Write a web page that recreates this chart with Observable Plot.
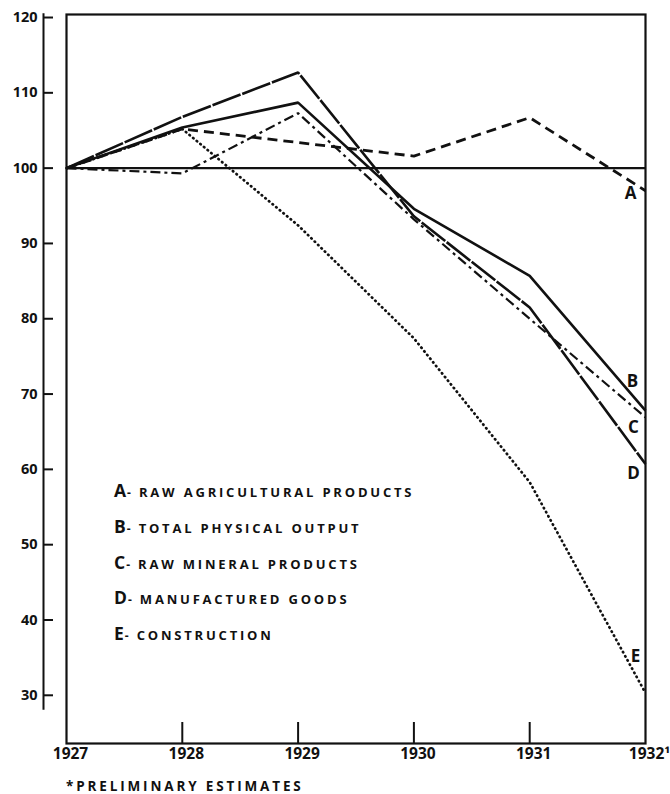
<!DOCTYPE html>
<html>
<head>
<meta charset="utf-8">
<script src="https://cdn.jsdelivr.net/npm/d3@7"></script>
<script src="https://cdn.jsdelivr.net/npm/@observablehq/plot@0.6"></script>
<style>
  html, body { margin: 0; padding: 0; background: #fff; }
  #wrap { position: relative; width: 670px; height: 794px; font-family: "Open Sans", sans-serif; font-weight: 700; color: #111; }
  #chart { position: absolute; left: 0; top: 0; }
  .leg { position: absolute; left: 114px; display: flex; align-items: baseline; white-space: nowrap; }
  .leg .k { font-size: 17.5px; letter-spacing: 0; }
  .leg .d { font-size: 12px; margin: 0 8px 0 1px; }
  .leg .t { font-size: 13px; letter-spacing: 2.8px; }
  #foot { position: absolute; left: 66px; top: 780px; font-size: 13.5px; letter-spacing: 2.85px; line-height: 1; }
</style>
</head>
<body>
<div id="wrap"><div id="chart"></div></div>
<script>
// ---- data ----
const years = [1927, 1928, 1929, 1930, 1931, 1932];
const agricultural = [100, 105.2, 103.4, 101.6, 106.7, 97.0];   // A
const totalOutput  = [100, 105.4, 108.7, 94.6, 85.7, 67.8];     // B
const mineral      = [100, 99.3, 107.3, 93.2, 80.0, 66.9];      // C
const manufactured = [100, 106.8, 112.7, 93.6, 81.5, 60.7];     // D
const construction = [100, 105.2, 92.4, 77.4, 58.3, 30.3];      // E
const seriesKeys = ["A", "B", "C", "D", "E"];
const seriesNames = ["RAW AGRICULTURAL PRODUCTS", "TOTAL PHYSICAL OUTPUT", "RAW MINERAL PRODUCTS", "MANUFACTURED GOODS", "CONSTRUCTION"];
const yTicks = [30, 40, 50, 60, 70, 80, 90, 100, 110, 120];
const xTickLabels = ["1927", "1928", "1929", "1930", "1931", "1932\u00b9"];
const baseValue = 100;
const footnote = "*PRELIMINARY ESTIMATES";

// ---- build table ----
const seriesValues = [agricultural, totalOutput, mineral, manufactured, construction];
const rows = seriesKeys.flatMap((k, i) => years.map((yr, j) => ({key: k, year: yr, value: seriesValues[i][j]})));
const lastRows = seriesKeys.map(k => rows.filter(r => r.key === k).at(-1));

// ---- styles ----
const styles = {
  A: {dash: "10,6", width: 2.8, cap: "butt", ldx: -15, ldy: 3},
  B: {dash: null, width: 2.6, cap: "butt", ldx: -13, ldy: -29},
  C: {dash: "10,4,3,4", width: 2.2, cap: "butt", ldx: -12, ldy: 10},
  D: {dash: "30,1.8", width: 2.6, cap: "butt", ldx: -12, ldy: 9},
  E: {dash: "0.5,4.2", width: 2.7, cap: "round", ldx: -10, ldy: -36}
};

const lineMarks = seriesKeys.map(k => Plot.line(rows.filter(r => r.key === k), {
  x: "year", y: "value", stroke: "#111", strokeWidth: styles[k].width,
  strokeDasharray: styles[k].dash, strokeLinecap: styles[k].cap, strokeLinejoin: "miter"
}));
const labelMarks = seriesKeys.map((k, i) => Plot.text([lastRows[i]], {
  x: "year", y: "value", text: "key", dx: styles[k].ldx, dy: styles[k].ldy,
  fontSize: 17, fontWeight: 700, fill: "#111"
}));

const chart = Plot.plot({
  width: 670,
  height: 770,
  marginLeft: 66,
  marginRight: 25,
  marginTop: 14,
  marginBottom: 27,
  style: {fontFamily: "Open Sans, sans-serif", fontWeight: 700, color: "#111", background: "#fff"},
  x: {domain: [years[0], years.at(-1)]},
  y: {domain: [23.6, 120.4]},
  marks: [
    Plot.ruleY([baseValue], {stroke: "#111", strokeWidth: 2.2}),
    ...lineMarks,
    ...labelMarks,
    Plot.frame({stroke: "#111", strokeWidth: 2.2}),
    Plot.ruleX([years[0]], {y1: d3.max(yTicks) + 0.5, y2: d3.min(yTicks) - 2, dx: -23, stroke: "#111", strokeWidth: 2}),
    Plot.axisY({ticks: yTicks, tickSize: 10, dx: -13, tickPadding: 6, fontSize: 14.5, fontWeight: 700, strokeWidth: 2, label: null}),
    Plot.axisX(years.slice(1, -1), {tickSize: -21, tickFormat: () => "", strokeWidth: 2, label: null}),
    Plot.axisX(years, {tickSize: 0, tickPadding: 4, dx: 4, tickFormat: (d) => xTickLabels[years.indexOf(d)], fontSize: 15.5, fontWeight: 700, label: null})
  ]
});
document.getElementById("chart").appendChild(chart);

// ---- legend (inside frame) ----
const wrap = document.getElementById("wrap");
seriesKeys.forEach((k, i) => {
  const div = document.createElement("div");
  div.className = "leg";
  div.style.top = (478 + i * 35.8) + "px";
  div.innerHTML = `<span class="k">${k}</span><span class="d">-</span><span class="t">${seriesNames[i]}</span>`;
  wrap.appendChild(div);
});
const foot = document.createElement("div");
foot.id = "foot";
foot.textContent = footnote;
wrap.appendChild(foot);
</script>
</body>
</html>
